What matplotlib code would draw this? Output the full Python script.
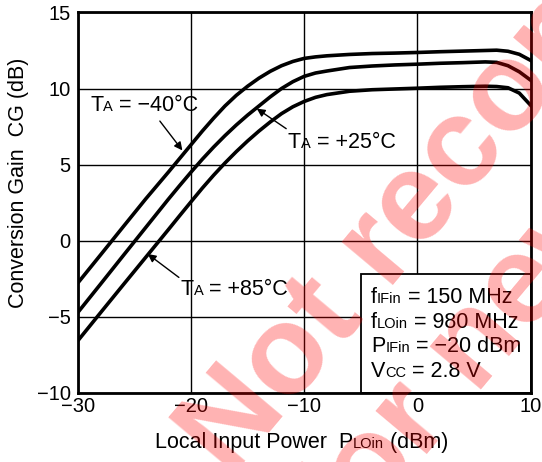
import matplotlib
matplotlib.use('Agg')
import matplotlib.pyplot as plt
from matplotlib.patches import Rectangle
from matplotlib.offsetbox import TextArea, HPacker, AnnotationBbox

plt.rcParams['font.family'] = ['Liberation Sans', 'DejaVu Sans']

# Local input power (dBm)
p_lo = [-30, -28, -26, -24, -22, -21, -20, -19, -18, -17, -16, -15, -14,
        -13, -12, -11, -10, -9, -8, -6, -4, -2, 0, 2, 4, 6, 7, 8, 9, 10]

# Conversion gain (dB) for each ambient temperature
cg_m40 = [-2.79, -0.95, 0.9, 2.74, 4.5, 5.4, 6.3, 7.2, 8.05, 8.85, 9.55,
          10.15, 10.68, 11.13, 11.5, 11.78, 11.98, 12.08, 12.15, 12.24, 12.3,
          12.33, 12.37, 12.42, 12.46, 12.5, 12.52, 12.45, 12.25, 11.85]
cg_p25 = [-4.73, -2.87, -1.0, 0.86, 2.72, 3.62, 4.5, 5.35, 6.15, 6.9, 7.6,
          8.25, 8.85, 9.45, 10.0, 10.45, 10.8, 11.02, 11.15, 11.38, 11.48,
          11.55, 11.6, 11.66, 11.7, 11.75, 11.72, 11.5, 11.1, 10.55]
cg_p85 = [-6.59, -4.75, -2.92, -1.1, 0.72, 1.64, 2.55, 3.45, 4.3, 5.1, 5.85,
          6.55, 7.2, 7.8, 8.35, 8.8, 9.15, 9.42, 9.6, 9.82, 9.92, 9.97, 10.02,
          10.08, 10.12, 10.15, 10.13, 10.05, 9.7, 8.9]

x_ticks = [-30, -20, -10, 0, 10]
y_ticks = [-10, -5, 0, 5, 10, 15]

# (main, subscript, rest)
conditions = [('f', 'IFin', ' = 150 MHz'),
              ('f', 'LOin', ' = 980 MHz'),
              ('P', 'IFin', ' = −20 dBm'),
              ('V', 'CC', ' = 2.8 V')]
temp_labels = [('T', 'A', ' = −40°C'),
               ('T', 'A', ' = +25°C'),
               ('T', 'A', ' = +85°C')]

FS = 15.5
SUB = 10.5


def sub_text(parts, xy, coords, align=(0, 0.5), size=FS, subsize=SUB):
    main, sub, rest = parts
    box = HPacker(children=[TextArea(main, textprops=dict(fontsize=size)),
                            TextArea(sub, textprops=dict(fontsize=subsize)),
                            TextArea(rest, textprops=dict(fontsize=size))],
                  align='baseline', pad=0, sep=0)
    ab = AnnotationBbox(box, xy, xycoords=coords, box_alignment=align,
                        frameon=False, pad=0, zorder=5)
    return ab


fig = plt.figure(figsize=(5.42, 4.62), dpi=100)
ax = fig.add_axes([0.1435, 0.150, 0.8355, 0.823])

# curves
for cg in (cg_m40, cg_p25, cg_p85):
    ax.plot(p_lo, cg, color='black', linewidth=2.6, zorder=3)

ax.set_xlim(-30, 10)
ax.set_ylim(-10, 15)
ax.set_xticks(x_ticks)
ax.set_yticks(y_ticks)
ax.tick_params(length=0, labelsize=14.5)
ax.tick_params(axis='y', pad=5)
ax.tick_params(axis='x', pad=3)
ax.grid(True, color='black', linewidth=1.0, zorder=1)
ax.set_axisbelow(True)
for s in ax.spines.values():
    s.set_linewidth(2.0)

# condition box (covers the grid)
ax.add_patch(Rectangle((-5, -10), 15, 7.8, facecolor='white',
                       edgecolor='black', linewidth=1.3, zorder=2))
for i, parts in enumerate(conditions):
    ax.add_artist(sub_text(parts, (-4.1, -3.74 - 1.62 * i), 'data'))

# temperature labels with arrows
arrow = dict(arrowstyle='-|>', color='black', linewidth=1.0,
             mutation_scale=12, shrinkA=0, shrinkB=0)
ax.add_artist(sub_text(temp_labels[0], (-28.9, 8.9), 'data'))
ax.annotate('', xy=(-20.76, 5.93), xytext=(-22.75, 7.86),
            arrowprops=arrow, zorder=4)
ax.add_artist(sub_text(temp_labels[1], (-11.44, 6.48), 'data'))
ax.annotate('', xy=(-14.19, 8.68), xytext=(-11.59, 7.36),
            arrowprops=arrow, zorder=4)
ax.add_artist(sub_text(temp_labels[2], (-20.92, -3.19), 'data'))
ax.annotate('', xy=(-23.82, -0.88), xytext=(-21.07, -2.42),
            arrowprops=arrow, zorder=4)

# axis titles
fig.add_artist(sub_text(('Local Input Power  P', 'LOin', ' (dBm)'),
                        (0.556, 0.043), 'figure fraction', align=(0.5, 0.5)))
fig.text(0.034, 0.605, 'Conversion Gain  CG (dB)', fontsize=FS,
         rotation=90, ha='center', va='center')

# watermark
fig.text(0.4255, -0.037, 'Not recommended', fontsize=91, fontweight='bold',
         color='red', alpha=0.3, rotation=50, rotation_mode='anchor',
         ha='left', va='baseline', zorder=10)
fig.text(0.638, -0.195, 'for new design', fontsize=91, fontweight='bold',
         color='red', alpha=0.3, rotation=50, rotation_mode='anchor',
         ha='left', va='baseline', zorder=10)

plt.savefig('out.png', dpi=100)
